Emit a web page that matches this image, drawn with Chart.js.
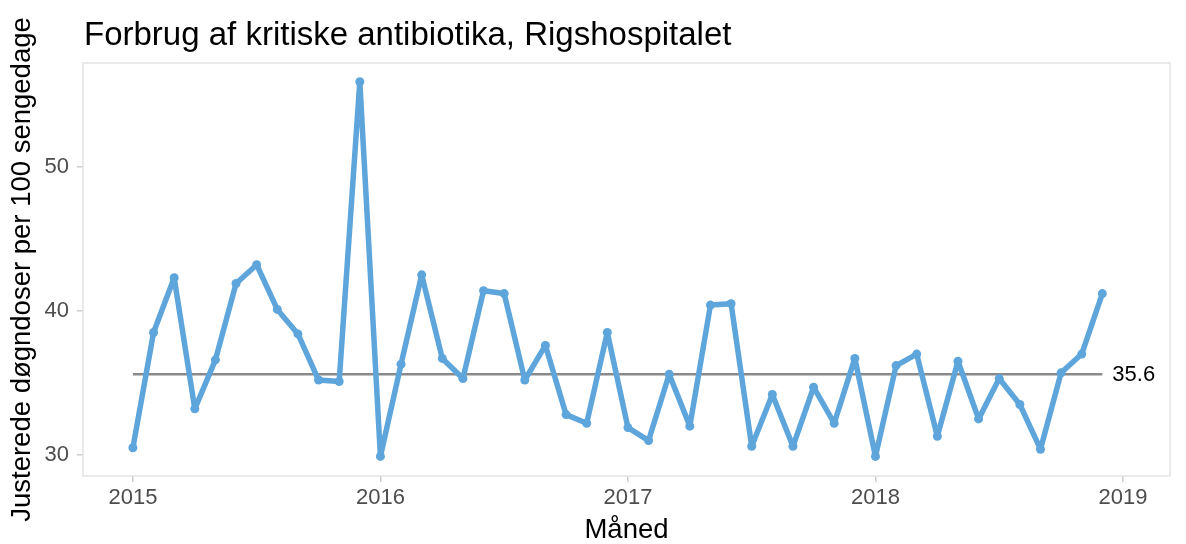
<!DOCTYPE html>
<html>
<head>
<meta charset="utf-8">
<script src="https://cdn.jsdelivr.net/npm/chart.js@4"></script>
<style>
  html, body { margin: 0; padding: 0; background: #ffffff; }
  canvas { display: block; }
</style>
</head>
<body>
<canvas id="c" width="1186" height="544"></canvas>
<script>
// ---- data ----
const titleText = 'Forbrug af kritiske antibiotika, Rigshospitalet';
const xTitle = 'Måned';
const yTitle = 'Justerede døgndoser per 100 sengedage';
const months = [
  '2015-01','2015-02','2015-03','2015-04','2015-05','2015-06','2015-07','2015-08','2015-09','2015-10','2015-11','2015-12',
  '2016-01','2016-02','2016-03','2016-04','2016-05','2016-06','2016-07','2016-08','2016-09','2016-10','2016-11','2016-12',
  '2017-01','2017-02','2017-03','2017-04','2017-05','2017-06','2017-07','2017-08','2017-09','2017-10','2017-11','2017-12',
  '2018-01','2018-02','2018-03','2018-04','2018-05','2018-06','2018-07','2018-08','2018-09','2018-10','2018-11','2018-12'
];
const values = [
  30.5, 38.5, 42.3, 33.2, 36.6, 41.9, 43.2, 40.1, 38.4, 35.2, 35.1, 55.9,
  29.9, 36.3, 42.5, 36.7, 35.3, 41.4, 41.2, 35.2, 37.6, 32.8, 32.2, 38.5,
  31.9, 31.0, 35.6, 32.0, 40.4, 40.5, 30.6, 34.2, 30.6, 34.7, 32.2, 36.7,
  29.9, 36.2, 37.0, 31.3, 36.5, 32.5, 35.3, 33.5, 30.4, 35.7, 37.0, 41.2
];
const medianValue = 35.6;
const yTickValues = [30, 40, 50];
const xTickYears = [2015, 2016, 2017, 2018, 2019];

// ---- helpers ----
const baseYear = 2015;
function monthIndex(s) {
  const [y, m] = s.split('-').map(Number);
  return (y - baseYear) * 12 + (m - 1);
}
const points = months.map((m, i) => ({ x: monthIndex(m), y: values[i] }));
const medianPoints = [
  { x: monthIndex(months[0]), y: medianValue },
  { x: monthIndex(months[months.length - 1]), y: medianValue }
];
const xTickPos = xTickYears.map(y => (y - baseYear) * 12);

const FONT = '"Liberation Sans", Arial, Helvetica, sans-serif';

const decorPlugin = {
  id: 'decor',
  beforeDatasetsDraw(chart) {
    const { ctx, chartArea: a } = chart;
    ctx.save();
    ctx.strokeStyle = '#e3e3e3';
    ctx.lineWidth = 1.5;
    ctx.strokeRect(a.left, a.top, a.right - a.left, a.bottom - a.top);
    ctx.restore();
  },
  afterDraw(chart) {
    const { ctx, chartArea: a, scales } = chart;
    ctx.save();
    ctx.fillStyle = '#000000';
    ctx.font = '33px ' + FONT;
    ctx.textAlign = 'left';
    ctx.textBaseline = 'alphabetic';
    ctx.fillText(titleText, a.left + 1, 45);
    const last = medianPoints[1];
    ctx.font = '22px ' + FONT;
    ctx.textBaseline = 'middle';
    ctx.fillText(medianValue.toFixed(1), scales.x.getPixelForValue(last.x) + 10, scales.y.getPixelForValue(medianValue) + 1);
    ctx.restore();
  }
};

new Chart(document.getElementById('c'), {
  type: 'line',
  data: {
    datasets: [
      {
        data: points,
        borderColor: '#5DA5DA',
        backgroundColor: '#5DA5DA',
        borderWidth: 5.5,
        borderJoinStyle: 'round',
        borderCapStyle: 'round',
        pointRadius: 4.5,
        pointBorderWidth: 0,
        pointHoverRadius: 4.5,
        tension: 0,
        order: 1
      },
      {
        data: medianPoints,
        borderColor: '#8a8a8a',
        borderWidth: 2.5,
        pointRadius: 0,
        tension: 0,
        order: 2
      }
    ]
  },
  options: {
    responsive: false,
    animation: false,
    devicePixelRatio: 1,
    layout: { padding: { left: 0, right: 16, top: 63, bottom: 0 } },
    plugins: {
      legend: { display: false },
      tooltip: { enabled: false }
    },
    scales: {
      x: {
        type: 'linear',
        min: -2.42,
        max: 50.28,
        afterBuildTicks(scale) { scale.ticks = xTickPos.map(v => ({ value: v })); },
        afterFit(scale) { scale.height = 68; },
        ticks: {
          autoSkip: false,
          maxRotation: 0,
          padding: 3,
          color: '#4d4d4d',
          font: { size: 22, family: FONT },
          callback: (v) => String(baseYear + v / 12)
        },
        grid: { drawOnChartArea: false, drawTicks: true, tickLength: 6, color: '#cccccc', lineWidth: 1.5 },
        border: { display: false },
        title: {
          display: true,
          text: xTitle,
          color: '#000000',
          font: { size: 27.5, family: FONT, lineHeight: 1.0 },
          padding: { top: 0, bottom: 0 }
        }
      },
      y: {
        type: 'linear',
        min: 28.54,
        max: 57.2,
        afterBuildTicks(scale) { scale.ticks = yTickValues.map(v => ({ value: v })); },
        afterFit(scale) { scale.width = 83; },
        ticks: {
          padding: 8,
          color: '#4d4d4d',
          font: { size: 22, family: FONT }
        },
        grid: { drawOnChartArea: false, drawTicks: true, tickLength: 6, color: '#cccccc', lineWidth: 1.5 },
        border: { display: false },
        title: {
          display: true,
          text: yTitle,
          color: '#000000',
          font: { size: 27.5, family: FONT, lineHeight: 1.0 },
          padding: { top: 9, bottom: 0 }
        }
      }
    }
  },
  plugins: [decorPlugin]
});
</script>
</body>
</html>
